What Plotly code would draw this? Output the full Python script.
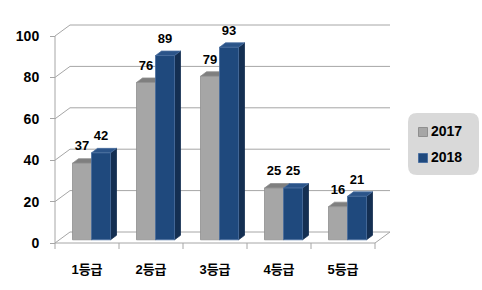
import plotly.graph_objects as go

categories = ["1등급", "2등급", "3등급", "4등급", "5등급"]
series_names = ["2017", "2018"]
values_2017 = [37, 76, 79, 25, 16]
values_2018 = [42, 89, 93, 25, 21]
y_ticks = [0, 20, 40, 60, 80, 100]

W, H = 482, 290
PX_CAT = 64.0      # pixels per category
PX_VAL = 2.07      # pixels per value unit
X0PX, Y0PX = 55, 243
xr = [-X0PX / PX_CAT, (W - X0PX) / PX_CAT]
yr = [(Y0PX - H) / PX_VAL, Y0PX / PX_VAL]


def dxp(p):
    return p / PX_CAT


def dyp(p):
    return p / PX_VAL


def X(p):
    return (p - X0PX) / PX_CAT


def Y(p):
    return (Y0PX - p) / PX_VAL


DX, DY = dxp(15), dyp(11)          # floor depth
BX, BY = dxp(4.5), dyp(3.2)        # bar front-plane shift
SX, SY = dxp(6), dyp(4.5)          # bar depth
BW = dxp(19)                       # bar width
n = len(categories)

fig = go.Figure()

# frame: back-wall grid + left wall diagonals + floor
fx, fy = [], []
for v in y_ticks:
    fx += [0, DX, n + DX, None]
    fy += [v, v + DY, v + DY, None]
fx += [0, 0, None, 0, n, n + DX, None]
fy += [0, y_ticks[-1], None, 0, 0, DY, None]
for k in range(n + 1):
    fx += [k, k, None]
    fy += [0, -dyp(6), None]
fig.add_trace(go.Scatter(x=fx, y=fy, mode="lines", line=dict(color="#a6a6a6", width=1),
                         hoverinfo="skip", showlegend=False))

styles = [
    dict(front="#a6a6a6", edge="#8f8f8f", top="#7f7f7f", side="#6f6f6f"),
    dict(front="#1f497d", edge="#4a6fa0", top="#2b5489", side="#142f52"),
]
series = [values_2017, values_2018]


def poly_trace(xs, ys, fill, edge):
    return go.Scatter(x=xs, y=ys, fill="toself", fillcolor=fill, mode="lines",
                      line=dict(color=edge, width=0.8), hoverinfo="skip", showlegend=False)


for si, vals in enumerate(series):
    st = styles[si]
    xs = [k + 0.5 + BX + (si - 1) * BW + BW / 2 for k in range(n)]
    sx_, sy_, tx_, ty_, fx_, fy_ = [], [], [], [], [], []
    for xc, v in zip(xs, vals):
        l, r = xc - BW / 2, xc + BW / 2
        t = BY + v
        sx_ += [r, r + SX, r + SX, r, r, None]
        sy_ += [BY, BY + SY, t + SY, t, BY, None]
        tx_ += [l, r, r + SX, l + SX, l, None]
        ty_ += [t, t, t + SY, t + SY, t, None]
        fx_ += [l, r, r, l, l, None]
        fy_ += [BY, BY, t, t, BY, None]
    fig.add_trace(poly_trace(sx_, sy_, st["side"], st["side"]))
    fig.add_trace(poly_trace(tx_, ty_, st["top"], st["edge"]))
    fig.add_trace(poly_trace(fx_, fy_, st["front"], st["edge"]))

for si, vals in enumerate(series):
    xs = [k + 0.5 + BX + (si - 1) * BW + BW / 2 for k in range(n)]
    fig.add_trace(go.Scatter(x=xs, y=[BY + v + dyp(16) for v in vals], mode="text",
                             text=[str(v) for v in vals], textposition="middle center",
                             textfont=dict(family="Liberation Sans", size=13, color="#000000", weight="bold"),
                             hoverinfo="skip", showlegend=False))

# legend box (rounded) and entries
lx0, lx1, ly0, ly1, rr = 408, 479, 113, 175, 9
pts = (f"M {X(lx0+rr)},{Y(ly0)} L {X(lx1-rr)},{Y(ly0)} Q {X(lx1)},{Y(ly0)} {X(lx1)},{Y(ly0+rr)} "
       f"L {X(lx1)},{Y(ly1-rr)} Q {X(lx1)},{Y(ly1)} {X(lx1-rr)},{Y(ly1)} L {X(lx0+rr)},{Y(ly1)} "
       f"Q {X(lx0)},{Y(ly1)} {X(lx0)},{Y(ly1-rr)} L {X(lx0)},{Y(ly0+rr)} Q {X(lx0)},{Y(ly0)} {X(lx0+rr)},{Y(ly0)} Z")
fig.add_shape(type="path", xref="x", yref="y", layer="below", path=pts,
              fillcolor="#d9d9d9", line=dict(width=0))

leg_y = [Y(132), Y(158)]
fig.add_trace(go.Scatter(x=[X(423)] * 2, y=leg_y, mode="markers",
                         marker=dict(symbol="square", size=9,
                                     color=[s["front"] for s in styles],
                                     line=dict(color=[s["edge"] for s in styles], width=1)),
                         hoverinfo="skip", showlegend=False))
fig.add_trace(go.Scatter(x=[X(431)] * 2, y=leg_y, mode="text", text=series_names,
                         textposition="middle right",
                         textfont=dict(family="Liberation Sans", size=14, color="#000000", weight="bold"),
                         hoverinfo="skip", showlegend=False))

fig.update_layout(
    width=W, height=H, margin=dict(l=0, r=0, t=0, b=0, autoexpand=False),
    paper_bgcolor="white", plot_bgcolor="white",
    showlegend=False,
    xaxis=dict(range=xr, showgrid=False, zeroline=False, showline=False, automargin=False,
               tickmode="array", tickvals=[k + 0.5 for k in range(n)], ticktext=categories,
               ticks="outside", ticklen=14, tickcolor="rgba(0,0,0,0)",
               anchor="free", position=(H - Y0PX) / H,
               tickfont=dict(family="Liberation Sans, Noto Sans CJK KR", size=13, color="#000000", weight="bold")),
    yaxis=dict(range=yr, showgrid=False, zeroline=False, showline=False, automargin=False,
               tickmode="array", tickvals=y_ticks, ticks="outside", ticklen=5, tickcolor="#a6a6a6",
               anchor="free", position=X0PX / W, ticklabelstandoff=8,
               tickfont=dict(family="Liberation Sans", size=14, color="#000000", weight="bold")),
)

fig.write_html("out.html")
